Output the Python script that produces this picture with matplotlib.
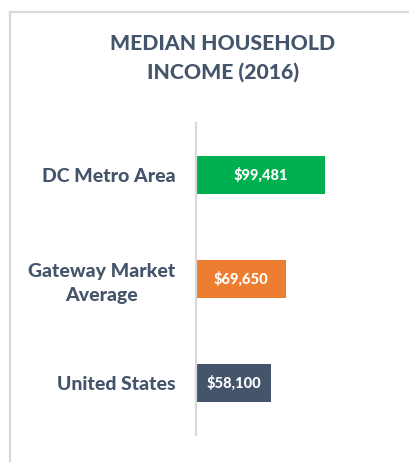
import matplotlib.pyplot as plt
from matplotlib.lines import Line2D

categories = ['DC Metro Area', 'Gateway Market\nAverage', 'United States']
values = [99481, 69650, 58100]
value_labels = ['$99,481', '$69,650', '$58,100']
colors = ['#00B050', '#ED7D31', '#44546A']

text_color = '#44546A'
plt.rcParams['font.family'] = ['Lato', 'DejaVu Sans']

W, H = 409, 462
fig = plt.figure(figsize=(W / 100, H / 100), dpi=100)

# outer frame (top and left edges visible)
fig.add_artist(Line2D([10 / W, 10 / W], [0, 1 - 12 / H], color='#D9D9D9', lw=1.6))
fig.add_artist(Line2D([10 / W, 1], [1 - 12 / H, 1 - 12 / H], color='#D9D9D9', lw=1.6))

ax = fig.add_axes([196 / W, 1 - 435 / H, 194 / W, 312 / H])
y = list(range(len(categories)))
ax.barh(y, values, height=0.36, color=colors)
ax.set_xlim(0, 150000)
ax.set_ylim(len(categories) - 0.5, -0.5)

for i, (v, lab) in enumerate(zip(values, value_labels)):
    ax.text(v / 2, i, lab, ha='center', va='center', color='white',
            fontsize=10.5, fontweight='black')

ax.set_yticks(y)
ax.set_yticklabels(categories, fontsize=14, fontweight='black', color=text_color,
                   ha='right', multialignment='center', linespacing=1.45)
ax.tick_params(axis='y', length=0, pad=15)
ax.set_xticks([])
for s in ['top', 'right', 'bottom']:
    ax.spines[s].set_visible(False)
ax.spines['left'].set_color('#D9D9D9')
ax.spines['left'].set_linewidth(1.6)

fig.text(223 / W, 1 - 58 / H, 'MEDIAN HOUSEHOLD\nINCOME (2016)', ha='center', va='center',
         fontsize=15.2, fontweight='black', color=text_color, linespacing=1.5)

fig.savefig('out.png', dpi=100)
